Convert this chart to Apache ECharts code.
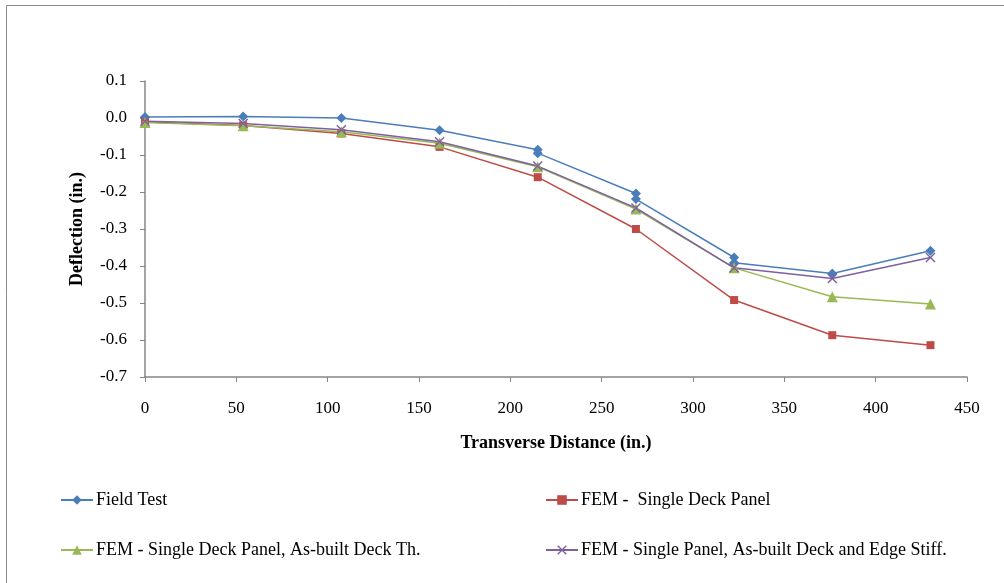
<!DOCTYPE html>
<html>
<head>
<meta charset="utf-8">
<script src="https://cdn.jsdelivr.net/npm/echarts@6/dist/echarts.min.js"></script>
<style>html,body{margin:0;padding:0;background:#fff}#c{width:1004px;height:583px}</style>
</head>
<body>
<div id="c"></div>
<script>
// Data
const fieldX = [0, 53.75, 107.5, 161.25, 215, 215, 268.75, 268.75, 322.5, 322.5, 376.25, 430];
const fieldY = [0.003, 0.004, 0.0, -0.033, -0.086, -0.095, -0.204, -0.219, -0.377, -0.391, -0.42, -0.359];
const femX = [0, 53.75, 107.5, 161.25, 215, 268.75, 322.5, 376.25, 430];
const singleDeck = [-0.011, -0.02, -0.042, -0.078, -0.16, -0.30, -0.492, -0.587, -0.614];
const asBuiltDeckTh = [-0.012, -0.021, -0.037, -0.068, -0.132, -0.246, -0.405, -0.483, -0.503];
const asBuiltEdge = [-0.009, -0.015, -0.032, -0.064, -0.13, -0.243, -0.405, -0.434, -0.377];
const seriesNames = ['Field Test', 'FEM -  Single Deck Panel', 'FEM - Single Deck Panel, As-built Deck Th.', 'FEM - Single Panel, As-built Deck and Edge Stiff.'];
const xTitle = 'Transverse Distance (in.)';
const yTitle = 'Deflection (in.)';

const pairs = (xs, ys) => xs.map((x, i) => [x, ys[i]]);
const font = 'Liberation Serif';
const xSym = 'path://M0,1 L1,0 L5,4 L9,0 L10,1 L6,5 L10,9 L9,10 L5,6 L1,10 L0,9 L4,5 Z';
const colors = ['#4A7EBB', '#BE4B48', '#98B954', '#7D60A0'];

function mkSeries(name, data, color, symbol, size) {
  return {
    name, type: 'line', data, symbol, symbolSize: size, showAllSymbol: true,
    lineStyle: { color, width: 1.5 }, itemStyle: { color },
    emphasis: { disabled: true }, animation: false
  };
}
function mkLegend(name, left, top) {
  return {
    data: [name], left, top, itemWidth: 32, itemHeight: 12, itemGap: 0,
    textStyle: { fontFamily: font, fontSize: 18, color: '#000', padding: [0, 0, 0, -2] },
    selectedMode: false
  };
}

const chart = echarts.init(document.getElementById('c'), null, { renderer: 'canvas' });
chart.setOption({
  animation: false,
  backgroundColor: '#fff',
  grid: { left: 145, right: 37, top: 81, bottom: 206 },
  graphic: [{
    type: 'rect', left: 4, top: 3, shape: { x: 0, y: 0, width: 1020, height: 600 },
    style: { fill: 'none', stroke: '#8a8a8a', lineWidth: 1 }, silent: true
  }],
  xAxis: {
    type: 'value', min: 0, max: 450, interval: 50,
    name: xTitle, nameLocation: 'middle', nameGap: 57,
    nameTextStyle: { fontFamily: font, fontSize: 18, fontWeight: 'bold', color: '#000' },
    axisLine: { onZero: false, lineStyle: { color: '#868686', width: 1.5 } },
    axisTick: { show: true, length: 5, lineStyle: { color: '#868686' } },
    axisLabel: { fontFamily: font, fontSize: 17, color: '#000', margin: 23 },
    splitLine: { show: false }
  },
  yAxis: {
    type: 'value', min: -0.7, max: 0.1, interval: 0.1,
    name: yTitle, nameLocation: 'middle', nameGap: 59,
    nameTextStyle: { fontFamily: font, fontSize: 18, fontWeight: 'bold', color: '#000' },
    axisLine: { show: true, onZero: false, lineStyle: { color: '#868686', width: 1.5 } },
    axisTick: { show: true, length: 5, lineStyle: { color: '#868686' } },
    axisLabel: { fontFamily: font, fontSize: 17, color: '#000', margin: 18,
      formatter: v => (Math.abs(v) < 1e-9 ? 0 : v).toFixed(1) },
    splitLine: { show: false }
  },
  legend: [
    mkLegend(seriesNames[0], 55, 486),
    mkLegend(seriesNames[1], 540, 486),
    mkLegend(seriesNames[2], 55, 536),
    mkLegend(seriesNames[3], 540, 536)
  ],
  series: [
    mkSeries(seriesNames[0], pairs(fieldX, fieldY), colors[0], 'diamond', 10),
    mkSeries(seriesNames[1], pairs(femX, singleDeck), colors[1], 'rect', 8),
    mkSeries(seriesNames[2], pairs(femX, asBuiltDeckTh), colors[2], 'triangle', 11),
    mkSeries(seriesNames[3], pairs(femX, asBuiltEdge), colors[3], xSym, 10)
  ]
});
</script>
</body>
</html>
